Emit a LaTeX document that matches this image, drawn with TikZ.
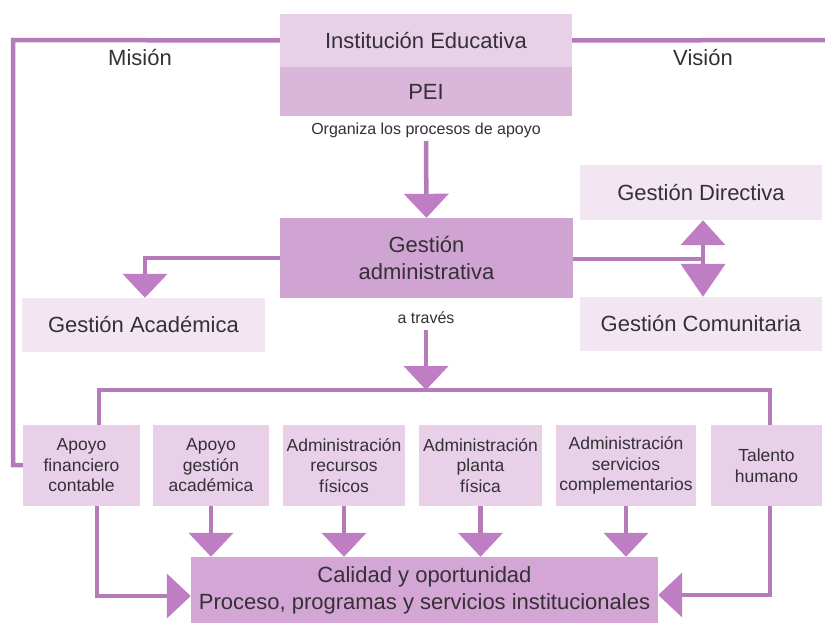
\documentclass[tikz,border=0pt]{standalone}
\usepackage{fontspec}
\setmainfont{Liberation Sans}
\usetikzlibrary{arrows.meta,calc}
\definecolor{linec}{HTML}{B57BB9}
\definecolor{headc}{HTML}{BF7DC4}
\definecolor{instc}{HTML}{E8D1E8}
\definecolor{peic}{HTML}{D9B6DA}
\definecolor{admc}{HTML}{D0A4D2}
\definecolor{palec}{HTML}{F2E6F2}
\definecolor{procc}{HTML}{E7D0E8}
\definecolor{calc}{HTML}{D3A6D5}
\definecolor{txtc}{HTML}{353035}
\begin{document}
\begin{tikzpicture}[x=1pt,y=-1pt,
  box/.style={rectangle,inner sep=0pt,align=center,text=txtc},
  bigtxt/.style={font=\fontsize{22}{27}\selectfont},
  smalltxt/.style={font=\fontsize{17.5}{20.5}\selectfont},
  labtxt/.style={text=txtc,inner sep=0pt,font=\fontsize{16}{19}\selectfont},
  conn/.style={draw=linec,line width=4.5pt},
  arr/.style={conn,-{Triangle[width=44pt,length=24pt,fill=headc,color=headc]}},
  darr/.style={conn,{Triangle[width=44pt,length=25pt,fill=headc,color=headc]}-{Triangle[width=44pt,length=33pt,fill=headc,color=headc]}}
]
\useasboundingbox (0,0) rectangle (825,626);
% top boxes
\node[box,bigtxt,fill=instc,minimum width=292pt,minimum height=53pt] (inst) at (426,40.5) {Institución Educativa};
\node[box,bigtxt,fill=peic,minimum width=292pt,minimum height=49pt] (pei) at (426,91.5) {PEI};
\node[labtxt] (org) at (426,130) {Organiza los procesos de apoyo};
\node[text=txtc,inner sep=0pt,bigtxt] (mision) at (140,58) {Misión};
\node[text=txtc,inner sep=0pt,bigtxt] (vision) at (703,58) {Visión};
% middle
\node[box,bigtxt,fill=admc,minimum width=293pt,minimum height=80pt] (adm) at (426.5,258) {Gestión\\administrativa};
\node[box,bigtxt,fill=palec,minimum width=243pt,minimum height=54pt] (acad) at (143.5,325) {Gestión Académica};
\node[box,bigtxt,fill=palec,minimum width=242pt,minimum height=55pt] (dir) at (701,192.5) {Gestión Directiva};
\node[box,bigtxt,fill=palec,minimum width=242pt,minimum height=54pt] (com) at (701,324) {Gestión Comunitaria};
\node[labtxt] (atraves) at (426,318) {a través};
% bottom row
\node[box,smalltxt,fill=procc,minimum width=117pt,minimum height=81pt] (b1) at (81.5,465.5) {Apoyo\\financiero\\contable};
\node[box,smalltxt,fill=procc,minimum width=116pt,minimum height=81pt] (b2) at (211,465.5) {Apoyo\\gestión\\académica};
\node[box,smalltxt,fill=procc,minimum width=122pt,minimum height=81pt] (b3) at (344,465.5) {Administración\\recursos\\físicos};
\node[box,smalltxt,fill=procc,minimum width=123pt,minimum height=81pt] (b4) at (480.5,465.5) {Administración\\planta\\física};
\node[box,smalltxt,fill=procc,minimum width=140pt,minimum height=81pt] (b5) at (626,465.5) {Administración\\servicios\\complementarios};
\node[box,smalltxt,fill=procc,minimum width=111pt,minimum height=81pt] (b6) at (766.5,465.5) {Talento\\humano};
\node[box,bigtxt,fill=calc,minimum width=467pt,minimum height=66pt] (cal) at (424.5,590) {Calidad y oportunidad\\Proceso, programas y servicios institucionales};
% coordinates
\coordinate (lftop) at (13,40);
\coordinate (lfbot) at (13,465);
\coordinate (rtend) at (830,40);
\coordinate (orgbot) at (426,141);
\coordinate (acadc) at (145,258);
\coordinate (jx) at (703,259);
\coordinate (trbot) at (426,330);
\coordinate (busmid) at (426,390);
\coordinate (busl) at (99,390);
\coordinate (busr) at (770,390);
\coordinate (l1) at (97,596);
\coordinate (r1) at (770,595);
% connectors
\draw[conn] (inst.west) -- (lftop) -- (lfbot) -- (b1.west |- lfbot);
\draw[conn] (inst.east) -- (rtend);
\draw[arr] (orgbot) -- (adm.north);
\draw[arr] (adm.west |- acadc) -- (acadc) -- (acad.north -| acadc);
\draw[conn] (adm.east |- jx) -- (jx);
\draw[darr] (dir.south -| jx) -- (com.north -| jx);
\draw[arr] (trbot) -- (busmid);
\draw[conn] (b1.north -| busl) -- (busl) -- (busr) -- (b6.north -| busr);
\draw[arr] (b2.south) -- (cal.north -| b2.south);
\draw[arr] (b3.south) -- (cal.north -| b3.south);
\draw[arr] (b4.south) -- (cal.north -| b4.south);
\draw[arr] (b5.south) -- (cal.north -| b5.south);
\draw[arr] (b1.south -| l1) -- (l1) -- (cal.west |- l1);
\draw[arr] (b6.south -| r1) -- (r1) -- (cal.east |- r1);
\end{tikzpicture}
\end{document}
